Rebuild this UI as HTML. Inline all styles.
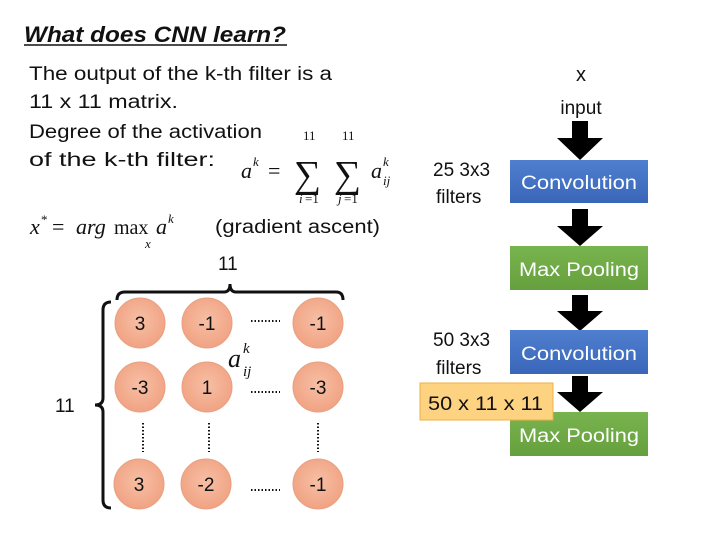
<!DOCTYPE html>
<html><head><meta charset="utf-8"><style>
body{margin:0;width:720px;height:540px;background:#fff;overflow:hidden}
svg{font-family:"Liberation Sans",sans-serif}
.m text{font-family:"Liberation Serif",serif}
</style></head><body>
<svg width="720" height="540" xmlns="http://www.w3.org/2000/svg">
<defs>
<radialGradient id="c" cx="50%" cy="45%" r="60%"><stop offset="0" stop-color="#f7bfa5"/><stop offset="1" stop-color="#f0a080"/></radialGradient>
<linearGradient id="b" x1="0" y1="0" x2="0" y2="1"><stop offset="0" stop-color="#4f7fd0"/><stop offset="1" stop-color="#3a66b8"/></linearGradient>
<linearGradient id="g" x1="0" y1="0" x2="0" y2="1"><stop offset="0" stop-color="#78b44e"/><stop offset="1" stop-color="#66a03e"/></linearGradient>
</defs>
<text x="24" y="42" font-size="22" font-style="italic" font-weight="bold" fill="#111" textLength="262" lengthAdjust="spacingAndGlyphs">What does CNN learn?</text>
<line x1="24" y1="45" x2="287" y2="45" stroke="#111" stroke-width="1.5"/>
<g font-size="19" fill="#111">
<text x="29" y="80" textLength="303" lengthAdjust="spacingAndGlyphs">The output of the k-th filter is a</text>
<text x="29" y="108" textLength="149" lengthAdjust="spacingAndGlyphs">11 x 11 matrix.</text>
<text x="29" y="138" textLength="233" lengthAdjust="spacingAndGlyphs">Degree of the activation</text>
<text x="29" y="166" textLength="186" lengthAdjust="spacingAndGlyphs">of the k-th filter:</text>
<text x="215" y="233" textLength="165" lengthAdjust="spacingAndGlyphs">(gradient ascent)</text>
<text x="218" y="270">11</text>
<text x="55" y="412">11</text>
</g>
<g class="m" fill="#111">
<text x="241" y="178" font-size="22" font-style="italic">a</text>
<text x="253" y="166" font-size="13" font-style="italic">k</text>
<text x="268" y="178" font-size="22">=</text>
<text x="294" y="187" font-size="38">∑</text>
<text x="334" y="187" font-size="38">∑</text>
<text x="303" y="140" font-size="13">11</text>
<text x="342" y="140" font-size="13">11</text>
<text x="299" y="203" font-size="13" font-style="italic">i</text><text x="305" y="203" font-size="13">=1</text>
<text x="338" y="203" font-size="13" font-style="italic">j</text><text x="344" y="203" font-size="13">=1</text>
<text x="371" y="178" font-size="22" font-style="italic">a</text>
<text x="383" y="166" font-size="13" font-style="italic">k</text>
<text x="383" y="185" font-size="13" font-style="italic">ij</text>
<text x="30" y="234" font-size="22" font-style="italic">x</text>
<text x="41" y="224" font-size="13">*</text>
<text x="52" y="234" font-size="22">=</text>
<text x="76" y="234" font-size="22" font-style="italic">arg</text>
<text x="114" y="234" font-size="20">max</text>
<text x="145" y="248" font-size="13" font-style="italic">x</text>
<text x="156" y="234" font-size="22" font-style="italic">a</text>
<text x="168" y="223" font-size="13" font-style="italic">k</text>
<text x="228" y="367" font-size="26" font-style="italic">a</text>
<text x="243" y="353" font-size="15" font-style="italic">k</text>
<text x="243" y="376" font-size="15" font-style="italic">ij</text>
</g>
<path d="M117,300 Q117,292 125,292 L224,292 Q230,292 230,284 Q230,292 236,292 L336,292 Q343,292 343,300" fill="none" stroke="#111" stroke-width="3"/>
<path d="M111,302 Q103,302 103,310 L103,398 Q103,405 95,405 Q103,405 103,412 L103,500 Q103,508 111,508" fill="none" stroke="#111" stroke-width="3"/>
<g fill="url(#c)" stroke="#e8a080" stroke-width="1">
<circle cx="140" cy="323" r="25"/><circle cx="207" cy="323" r="25"/><circle cx="318" cy="323" r="25"/>
<circle cx="140" cy="387" r="25"/><circle cx="207" cy="387" r="25"/><circle cx="318" cy="387" r="25"/>
<circle cx="139" cy="484" r="25"/><circle cx="206" cy="484" r="25"/><circle cx="318" cy="484" r="25"/>
</g>
<g font-size="19" fill="#111" text-anchor="middle">
<text x="140" y="330">3</text><text x="207" y="330">-1</text><text x="318" y="330">-1</text>
<text x="140" y="394">-3</text><text x="207" y="394">1</text><text x="318" y="394">-3</text>
<text x="139" y="491">3</text><text x="206" y="491">-2</text><text x="318" y="491">-1</text>
</g>
<g stroke="#111" stroke-width="2" stroke-dasharray="1.5,2">
<line x1="251" y1="321" x2="280" y2="321"/><line x1="251" y1="392" x2="280" y2="392"/><line x1="251" y1="490" x2="280" y2="490"/>
<line x1="143" y1="423" x2="143" y2="452"/><line x1="209" y1="423" x2="209" y2="452"/><line x1="318" y1="423" x2="318" y2="452"/>
</g>
<text x="581" y="81" font-size="20" fill="#111" text-anchor="middle">x</text>
<text x="581" y="114" font-size="19" fill="#111" text-anchor="middle">input</text>
<g fill="#000">
<path d="M572,121 h16 v17 h15 l-23,22 l-23,-22 h15z"/>
<path d="M572,209 h16 v17 h15 l-23,20 l-23,-20 h15z"/>
<path d="M572,295 h16 v16 h15 l-23,20 l-23,-20 h15z"/>
<path d="M572,376 h16 v16 h15 l-23,20 l-23,-20 h15z"/>
</g>
<rect x="510" y="160" width="138" height="43" fill="url(#b)"/>
<rect x="510" y="246" width="138" height="44" fill="url(#g)"/>
<rect x="510" y="330" width="138" height="44" fill="url(#b)"/>
<rect x="510" y="412" width="138" height="44" fill="url(#g)"/>
<rect x="420" y="383" width="133" height="37" fill="#fdd382" stroke="#f0b040" stroke-width="1"/>
<g font-size="19" fill="#fff" text-anchor="middle">
<text x="579" y="189" textLength="116" lengthAdjust="spacingAndGlyphs">Convolution</text>
<text x="579" y="276" textLength="120" lengthAdjust="spacingAndGlyphs">Max Pooling</text>
<text x="579" y="360" textLength="116" lengthAdjust="spacingAndGlyphs">Convolution</text>
<text x="579" y="442" textLength="120" lengthAdjust="spacingAndGlyphs">Max Pooling</text>
</g>
<g font-size="19" fill="#111">
<text x="433" y="176">25 3x3</text><text x="436" y="203">filters</text>
<text x="433" y="346">50 3x3</text><text x="436" y="374">filters</text>
<text x="428" y="410" textLength="115" lengthAdjust="spacingAndGlyphs">50 x 11 x 11</text>
</g>
</svg>
</body></html>
